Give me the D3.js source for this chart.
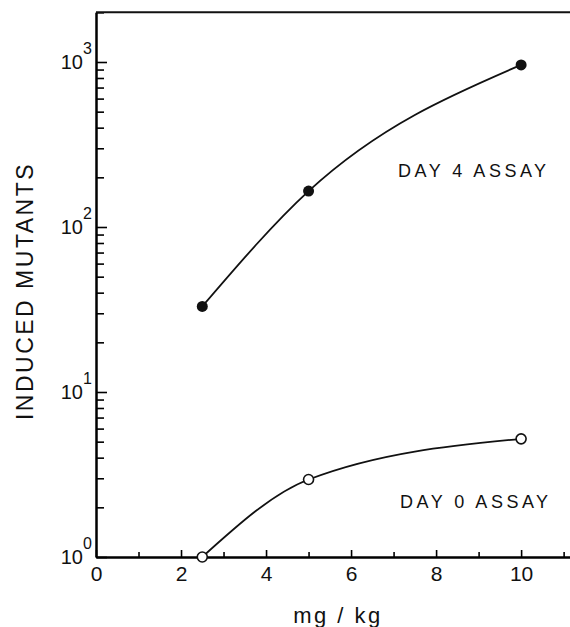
<!DOCTYPE html>
<html>
<head>
<meta charset="utf-8">
<script src="https://cdn.jsdelivr.net/npm/d3@7"></script>
<style>
body { margin: 0; background: #fff; }
svg { display: block; font-family: "Liberation Sans", Arial, sans-serif; }
</style>
</head>
<body>
<svg id="chart" width="570" height="627"></svg>
<script>
// dose in mg/kg
var doses = [2.5, 5, 10];
// induced mutants
var day4 = [33, 165, 960];
var day0 = [1.0, 2.95, 5.2];

var xMajor = [0, 2, 4, 6, 8, 10];
var xMinor = [1, 3, 5, 7, 9, 11];
var yMajor = [1, 10, 100, 1000];
var yExp = ["0", "1", "2", "3"];

var svg = d3.select("#chart");

var x = d3.scaleLinear().domain([0, 11.15]).range([96, 570]);
var decade = 165;
var y = d3.scaleLog().domain([1, 2000]).range([557, 557 - decade * Math.log10(2000)]);

// minor log ticks 2..9 per decade
var yMinor = [];
yMajor.forEach(function(d) {
    for (var k = 2; k <= 9; k++) {
        if (d * k <= 2000) yMinor.push(d * k);
    }
});

// x axis (ticks point inward)
var gx = svg.append("g").attr("transform", "translate(0,557)");
gx.call(d3.axisBottom(x).tickValues(xMajor).tickSizeInner(-7).tickSizeOuter(0).tickPadding(9));
gx.append("g").call(d3.axisBottom(x).tickValues(xMinor).tickSizeInner(-5).tickSizeOuter(0).tickFormat(""));
gx.selectAll("path.domain").attr("stroke-width", 2);
gx.selectAll("line").attr("stroke-width", 1.6);
gx.selectAll("text").attr("font-size", 21).attr("fill", "#111");

// y axis
var gy = svg.append("g").attr("transform", "translate(96,0)");
gy.call(d3.axisLeft(y).tickValues(yMajor).tickSizeInner(-11).tickSizeOuter(0).tickFormat(""));
gy.append("g").call(d3.axisLeft(y).tickValues(yMinor).tickSizeInner(-8).tickSizeOuter(0).tickFormat(""));
gy.selectAll("path.domain").attr("stroke-width", 2);
gy.selectAll("line").attr("stroke-width", 1.6);

// top frame line
svg.append("line")
    .attr("x1", x(0)).attr("x2", 570)
    .attr("y1", y(2000)).attr("y2", y(2000))
    .attr("stroke", "#111").attr("stroke-width", 2);

// y tick labels 10^n
yMajor.forEach(function(d, i) {
    svg.append("text")
        .attr("x", 83).attr("y", y(d) + 7)
        .attr("text-anchor", "end")
        .attr("font-size", 20).attr("fill", "#111")
        .text("10");
    svg.append("text")
        .attr("x", 83).attr("y", y(d) - 8)
        .attr("font-size", 16).attr("fill", "#111")
        .text(yExp[i]);
});

// curves
var line = d3.line()
    .x(function(d) { return x(d[0]); })
    .y(function(d) { return y(d[1]); })
    .curve(d3.curveMonotoneX);

var s4 = doses.map(function(d, i) { return [d, day4[i]]; });
var s0 = doses.map(function(d, i) { return [d, day0[i]]; });

svg.append("path").datum(s4).attr("d", line)
    .attr("fill", "none").attr("stroke", "#111").attr("stroke-width", 1.8);
svg.append("path").datum(s0).attr("d", line)
    .attr("fill", "none").attr("stroke", "#111").attr("stroke-width", 1.8);

svg.selectAll("circle.d4").data(s4).enter().append("circle")
    .attr("class", "d4")
    .attr("cx", function(d) { return x(d[0]); })
    .attr("cy", function(d) { return y(d[1]); })
    .attr("r", 5.5)
    .attr("fill", "#111");

svg.selectAll("circle.d0").data(s0).enter().append("circle")
    .attr("class", "d0")
    .attr("cx", function(d) { return x(d[0]); })
    .attr("cy", function(d) { return y(d[1]); })
    .attr("r", 5)
    .attr("fill", "#fff").attr("stroke", "#111").attr("stroke-width", 1.6);

// series labels
svg.append("text").attr("x", 398).attr("y", 177)
    .attr("font-size", 18).attr("letter-spacing", 3.5).attr("fill", "#111")
    .text("DAY 4 ASSAY");
svg.append("text").attr("x", 400).attr("y", 508)
    .attr("font-size", 18).attr("letter-spacing", 3.5).attr("fill", "#111")
    .text("DAY 0 ASSAY");

// axis titles
svg.append("text")
    .attr("transform", "translate(33,291) rotate(-90)")
    .attr("text-anchor", "middle")
    .attr("font-size", 23).attr("letter-spacing", 2.5).attr("fill", "#111")
    .text("INDUCED MUTANTS");
svg.append("text")
    .attr("x", 338).attr("y", 623)
    .attr("text-anchor", "middle")
    .attr("font-size", 22).attr("letter-spacing", 2.5).attr("fill", "#111")
    .text("mg / kg");
</script>
</body>
</html>
